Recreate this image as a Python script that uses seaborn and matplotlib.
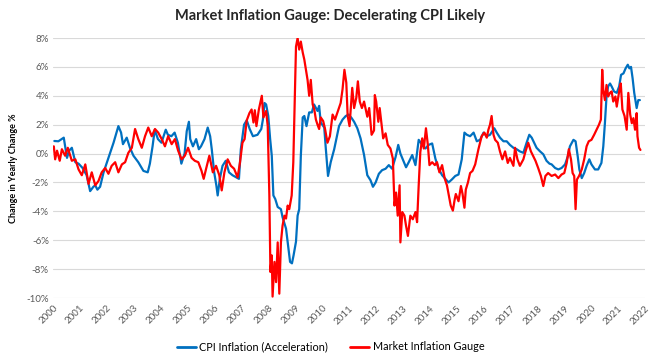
import matplotlib
matplotlib.use("Agg")
import matplotlib.pyplot as plt
import matplotlib.ticker as mticker
import seaborn as sns
import pandas as pd
import numpy as np

# ---- Data ----
cpi_t = [2000.05, 2000.2, 2000.4, 2000.52, 2000.6, 2000.7, 2000.83, 2000.95, 2001.1, 2001.25,
         2001.38, 2001.5, 2001.57, 2001.65, 2001.75, 2001.88, 2002.06, 2002.25, 2002.35, 2002.43,
         2002.53, 2002.6, 2002.74, 2002.86, 2002.99, 2003.17, 2003.36, 2003.52, 2003.6, 2003.7,
         2003.78, 2003.9, 2004.03, 2004.19, 2004.27, 2004.4, 2004.52, 2004.64, 2004.77, 2004.89,
         2004.97, 2005.05, 2005.1, 2005.2, 2005.32, 2005.42, 2005.5, 2005.63, 2005.75, 2005.84,
         2005.9, 2005.99, 2006.07, 2006.12, 2006.2, 2006.3, 2006.42, 2006.54, 2006.67, 2006.81,
         2006.91, 2006.98, 2007.1, 2007.2, 2007.31, 2007.43, 2007.6, 2007.74, 2007.8, 2007.86,
         2007.92, 2008.0, 2008.07, 2008.13, 2008.19, 2008.26, 2008.35, 2008.47, 2008.53, 2008.66,
         2008.72, 2008.81, 2008.88, 2008.94, 2009.03, 2009.09, 2009.15, 2009.21, 2009.28, 2009.34,
         2009.42, 2009.52, 2009.62, 2009.7, 2009.83, 2009.89, 2009.95, 2010.08, 2010.14, 2010.22,
         2010.32, 2010.45, 2010.53, 2010.63, 2010.76, 2010.88, 2010.99, 2011.1, 2011.19, 2011.31,
         2011.43, 2011.56, 2011.68, 2011.8, 2011.89, 2011.99, 2012.11, 2012.23, 2012.36, 2012.48,
         2012.6, 2012.73, 2012.83, 2012.91, 2013.04, 2013.12, 2013.22, 2013.35, 2013.47, 2013.59,
         2013.72, 2013.84, 2013.96, 2014.09, 2014.21, 2014.33, 2014.46, 2014.58, 2014.7, 2014.82,
         2014.95, 2015.07, 2015.19, 2015.29, 2015.38, 2015.5, 2015.63, 2015.75, 2015.87, 2016.0,
         2016.12, 2016.24, 2016.4, 2016.49, 2016.61, 2016.74, 2016.86, 2016.98, 2017.11, 2017.23,
         2017.35, 2017.48, 2017.6, 2017.7, 2017.79, 2017.88, 2017.97, 2018.1, 2018.22, 2018.34,
         2018.45, 2018.53, 2018.66, 2018.78, 2018.9, 2019.03, 2019.13, 2019.21, 2019.34, 2019.42,
         2019.5, 2019.56, 2019.65, 2019.74, 2019.83, 2019.93, 2020.01, 2020.14, 2020.26, 2020.38,
         2020.45, 2020.51, 2020.57, 2020.63, 2020.7, 2020.76, 2020.85, 2020.95, 2021.04, 2021.11,
         2021.2, 2021.28, 2021.36, 2021.42, 2021.48, 2021.54, 2021.6, 2021.69, 2021.75, 2021.81]
cpi_v = [0.87, 0.85, 1.1, -0.3, 0.2, 0.4, -0.6, -0.7, -1.0, -1.5,
         -2.6, -2.3, -2.2, -2.5, -2.3, -1.3, -0.3, 0.75, 1.4, 1.9,
         1.45, 0.65, 1.1, 0.4, -0.15, -0.6, -1.2, -1.3, -0.7, 0.5,
         1.65, 1.0, 0.75, 1.65, 1.3, 1.2, 1.45, 0.75, -0.7, 0.0,
         1.55, 2.2, 1.0, 0.5, 1.0, 0.3, 0.5, 1.0, 1.8, 1.2,
         0.3, -1.3, -2.2, -2.9, -1.75, -0.85, -0.5, -1.3, -1.5, -1.65,
         -1.75, 0.3, 2.0, 2.3, 1.7, 1.2, 1.3, 1.7, 2.35, 3.5,
         3.4, 2.6, 1.0, -0.15, -2.9, -3.15, -3.7, -3.85, -4.4, -5.2,
         -6.1, -7.5, -7.6, -7.05, -6.1, -4.3, -3.85, -0.15, 2.5, 2.6,
         1.9, 2.85, 2.85, 3.4, 2.95, 3.3, 2.15, 1.8, 0.3, -1.55,
         -0.6, 0.3, 1.0, 1.9, 2.35, 2.6, 2.7, 2.45, 2.2, 1.75,
         1.05, -0.1, -1.5, -1.85, -2.3, -2.0, -1.4, -1.15, -1.05, -0.8,
         -1.05, -0.25, 0.6, 0.0, -0.6, -0.95, -0.6, -0.1, -0.8, 0.95,
         0.6, 0.35, 0.6, 0.7, -0.35, -1.05, -1.5, -1.75, -2.0, -1.8,
         -1.55, -1.45, -0.4, 1.45, 1.3, 1.2, 1.45, 0.85, 0.95, 1.45,
         1.2, 1.3, 1.75, 1.45, 1.1, 0.85, 0.85, 0.6, 0.4, 0.3,
         0.15, 0.05, 0.75, 1.3, 1.1, 0.75, 0.4, 0.15, -0.05, -0.5,
         -0.7, -0.75, -1.0, -1.1, -1.0, -0.75, -0.2, 0.5, 0.95, 0.85,
         -0.2, -1.1, -1.7, -1.35, -0.85, -0.4, -0.75, -1.1, -1.1, -0.65,
         0.5, 2.1, 3.95, 4.65, 4.85, 4.65, 4.3, 4.2, 4.65, 5.45,
         5.55, 5.9, 6.15, 5.9, 6.0, 5.2, 4.2, 3.15, 3.7, 3.7]

mig_t = [2000.03, 2000.08, 2000.15, 2000.25, 2000.33, 2000.45, 2000.55, 2000.7, 2000.83, 2000.95,
         2001.07, 2001.2, 2001.32, 2001.44, 2001.57, 2001.69, 2001.81, 2001.94, 2002.06, 2002.18,
         2002.31, 2002.43, 2002.56, 2002.68, 2002.8, 2002.93, 2003.05, 2003.17, 2003.3, 2003.42,
         2003.54, 2003.67, 2003.79, 2003.91, 2004.04, 2004.16, 2004.28, 2004.41, 2004.53, 2004.65,
         2004.78, 2004.9, 2005.02, 2005.15, 2005.27, 2005.4, 2005.52, 2005.6, 2005.69, 2005.81,
         2005.94, 2006.06, 2006.18, 2006.27, 2006.37, 2006.49, 2006.61, 2006.73, 2006.86, 2006.95,
         2007.04, 2007.12, 2007.2, 2007.3, 2007.38, 2007.45, 2007.5, 2007.56, 2007.65, 2007.76,
         2007.82, 2007.92, 2007.98, 2008.04, 2008.08, 2008.13, 2008.16, 2008.23, 2008.29, 2008.35,
         2008.41, 2008.47, 2008.53, 2008.6, 2008.66, 2008.72, 2008.78, 2008.87, 2008.93, 2008.98,
         2009.03, 2009.09, 2009.15, 2009.21, 2009.28, 2009.34, 2009.4, 2009.46, 2009.52, 2009.58,
         2009.65, 2009.71, 2009.77, 2009.83, 2009.89, 2009.95, 2010.04, 2010.11, 2010.2, 2010.29,
         2010.39, 2010.48, 2010.57, 2010.69, 2010.76, 2010.83, 2010.9, 2010.95, 2011.02, 2011.07,
         2011.12, 2011.19, 2011.27, 2011.33, 2011.4, 2011.48, 2011.56, 2011.68, 2011.75, 2011.84,
         2011.93, 2011.96, 2012.01, 2012.09, 2012.14, 2012.2, 2012.27, 2012.36, 2012.44, 2012.54,
         2012.63, 2012.69, 2012.75, 2012.81, 2012.88, 2012.91, 2012.98, 2013.06, 2013.12, 2013.19,
         2013.28, 2013.37, 2013.47, 2013.53, 2013.59, 2013.65, 2013.72, 2013.78, 2013.86, 2013.93,
         2013.99, 2014.09, 2014.19, 2014.27, 2014.36, 2014.46, 2014.56, 2014.64, 2014.7, 2014.78,
         2014.86, 2014.93, 2014.97, 2015.07, 2015.16, 2015.22, 2015.29, 2015.34, 2015.42, 2015.5,
         2015.59, 2015.69, 2015.81, 2015.93, 2016.03, 2016.12, 2016.18, 2016.24, 2016.3, 2016.37,
         2016.43, 2016.53, 2016.61, 2016.7, 2016.8, 2016.9, 2016.98, 2017.11, 2017.17, 2017.26,
         2017.35, 2017.48, 2017.56, 2017.66, 2017.76, 2017.85, 2017.93, 2018.03, 2018.13, 2018.22,
         2018.3, 2018.4, 2018.53, 2018.66, 2018.78, 2018.9, 2019.0, 2019.09, 2019.17, 2019.25,
         2019.31, 2019.37, 2019.42, 2019.47, 2019.55, 2019.65, 2019.74, 2019.83, 2019.91, 2020.01,
         2020.11, 2020.2, 2020.29, 2020.36, 2020.41, 2020.45, 2020.51, 2020.57, 2020.63, 2020.7,
         2020.76, 2020.82, 2020.9, 2020.95, 2021.04, 2021.1, 2021.16, 2021.24, 2021.32, 2021.38,
         2021.45, 2021.51, 2021.57, 2021.63, 2021.69, 2021.72, 2021.78, 2021.83]
mig_v = [0.5, -0.4, 0.2, -0.5, 0.3, -0.15, 0.4, -0.5, -0.4, -1.1,
         -1.5, -0.75, -2.1, -1.3, -2.2, -1.9, -1.3, -1.0, -1.4, -0.85,
         -0.6, -1.3, -0.75, -0.6, 0.05, 0.4, 1.7, 1.0, 0.4, 1.2,
         1.8, 1.2, 1.7, 1.45, 1.0, 0.5, 1.2, 0.65, 1.0, 0.2,
         -0.4, -0.15, 0.4, -0.3, -0.5, -0.6, -1.2, -1.75, -1.05, -0.15,
         -1.3, -0.85, -1.5, -2.55, -1.3, -0.4, -0.85, -1.05, -1.65, -0.6,
         0.75, 1.0, 2.3, 2.8, 3.05, 2.15, 3.0, 1.9, 3.05, 4.0,
         2.5, 2.95, 1.9, -2.9, -8.2, -7.05, -9.9, -7.5, -8.9, -6.15,
         -9.7, -6.15, -5.0, -4.3, -4.5, -3.6, -3.85, -2.9, -0.6, 3.3,
         7.4, 8.0, 7.2, 7.75, 7.0, 6.5, 5.8, 5.1, 4.0, 5.1,
         3.4, 3.05, 2.35, 2.0, 1.7, 2.5, 2.25, 1.7, 0.75, 1.2,
         2.7, 2.35, 2.85, 3.5, 4.45, 5.8, 4.9, 2.6, 1.9, 3.2,
         4.55, 3.15, 3.85, 5.0, 3.6, 3.15, 3.6, 2.55, 3.15, 1.3,
         1.6, 4.05, 3.6, 2.2, 3.15, 2.2, 1.05, 1.4, 0.6, 0.35,
         -0.35, -3.6, -2.7, -4.3, -2.2, -6.15, -4.05, -4.3, -5.0, -5.7,
         -4.3, -4.55, -4.05, -4.75, -2.2, 0.1, 1.05, 0.35, 1.75, 0.6,
         -0.8, -0.6, -0.8, -0.6, -1.3, -0.8, -1.75, -2.2, -2.8, -3.6,
         -3.95, -3.15, -2.8, -3.3, -2.25, -2.8, -3.75, -2.5, -2.0, -1.35,
         -1.2, -0.75, 0.3, 1.2, 1.45, 1.1, 1.65, 2.0, 2.6, 1.3,
         0.95, 0.75, 0.15, -0.4, 0.15, -0.65, -0.3, -0.85, 0.4, -0.4,
         -0.85, -0.4, 0.15, 0.75, 0.15, -0.2, -0.5, -1.0, -1.55, -2.25,
         -1.55, -1.35, -1.55, -1.45, -1.7, -1.45, -1.35, -0.65, 0.3, -0.4,
         -1.35, -1.55, -3.85, -1.8, -1.55, -1.1, -0.4, 0.5, 0.85, 0.95,
         1.3, 1.65, 2.0, 2.35, 5.8, 4.4, 3.7, 4.75, 3.95, 4.2,
         4.3, 3.6, 3.95, 3.25, 4.3, 4.85, 3.05, 2.6, 1.65, 4.2,
         2.7, 2.1, 2.45, 1.65, 2.8, 1.2, 0.4, 0.25]

years = list(range(2000, 2023))
y_ticks = [-10, -8, -6, -4, -2, 0, 2, 4, 6, 8]

series_names = ["CPI Inflation (Acceleration)", "Market Inflation Gauge"]
series_colors = ["#0070C0", "#FF0000"]

df = pd.concat([
    pd.DataFrame({"t": cpi_t, "v": cpi_v, "series": series_names[0]}),
    pd.DataFrame({"t": mig_t, "v": mig_v, "series": series_names[1]}),
], ignore_index=True)

sns.set_theme(style="white")
plt.rcParams["font.family"] = ["Lato", "DejaVu Sans"]

fig = plt.figure(figsize=(6.61, 3.63), dpi=100)
ax = fig.add_axes([53 / 661, 1 - 298 / 363, (645 - 53) / 661, (298 - 38) / 363])

sns.lineplot(data=df, x="t", y="v", hue="series", hue_order=series_names,
             palette=series_colors, linewidth=1.6, ax=ax, legend=True, estimator=None,
             sort=False)

ax.set_xlim(2000, 2022)
ax.set_ylim(-10, 8)
ax.set_yticks(y_ticks)
ax.yaxis.set_major_formatter(mticker.FuncFormatter(lambda v, p: f"{int(v)}%"))
ax.set_xticks(years)
ax.set_xticklabels([str(y) for y in years], rotation=45, ha="right", rotation_mode="anchor")
ax.tick_params(axis="both", labelsize=7, colors="#595959", length=0, pad=3)
ax.tick_params(axis="x", pad=4)
ax.grid(axis="y", color="#D9D9D9", linewidth=0.8)
ax.grid(axis="x", visible=False)
ax.set_axisbelow(True)
for s in ax.spines.values():
    s.set_visible(False)
ax.set_xlabel("")
ax.set_ylabel("Change in Yearly Change %", fontsize=6.5, fontweight="bold", color="#000000", labelpad=6)

fig.suptitle("Market Inflation Gauge: Decelerating CPI Likely", fontsize=10.5,
             fontweight="bold", y=1 - 16 / 363, va="center")

leg = ax.legend(loc="center", bbox_to_anchor=(0.5, 1 - 347 / 363), bbox_transform=fig.transFigure,
                ncol=2, frameon=False, fontsize=7.8, handlelength=1.8, columnspacing=2.0,
                handletextpad=0.3)
for line in leg.get_lines():
    line.set_linewidth(2)
for txt in leg.get_texts():
    txt.set_color("#000000")

fig.savefig("out.png", dpi=100)
